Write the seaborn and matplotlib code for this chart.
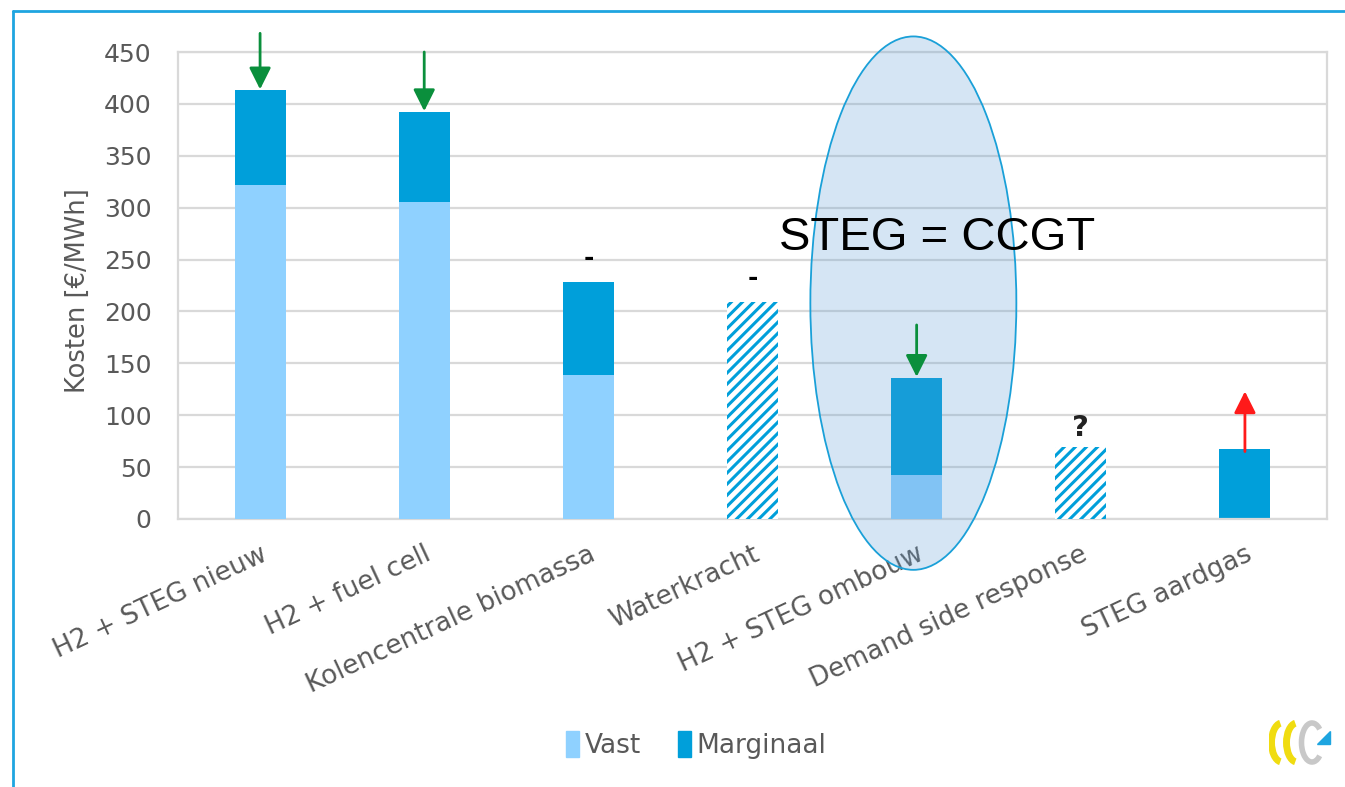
import numpy as np
import pandas as pd
import matplotlib
matplotlib.use("Agg")
import matplotlib.pyplot as plt
from matplotlib.patches import Ellipse, Rectangle, Arc, Polygon
from matplotlib.lines import Line2D
import seaborn as sns

# --- data (EUR/MWh) ---
categories = ["H2 + STEG nieuw", "H2 + fuel cell", "Kolencentrale biomassa", "Waterkracht",
              "H2 + STEG ombouw", "Demand side response", "STEG aardgas"]
vast = [322, 305, 139, 0, 42, 0, 0]
marginaal = [91, 87, 89, 0, 94, 0, 67]
onzeker = [0, 0, 0, 209, 0, 69, 0]          # hatched: total only, no split
yticks = [0, 50, 100, 150, 200, 250, 300, 350, 400, 450]

C_VAST = "#8FD1FF"
C_MARG = "#009FDA"
C_TEXT = "#595959"
C_GRID = "#D9D9D9"

sns.set_theme(style="white")
plt.rcParams["font.family"] = ["DejaVu Sans"]
plt.rcParams["hatch.linewidth"] = 2.2

fig = plt.figure(figsize=(13.45, 7.87), dpi=100)
ax = fig.add_axes([178 / 1345, 1 - 519 / 787, (1327 - 178) / 1345, (519 - 52) / 787])

totaal = [v + m for v, m in zip(vast, marginaal)]
df = pd.DataFrame({"cat": categories, "vast": vast, "marg": marginaal,
                   "tot": totaal, "onz": onzeker})

bw = 0.31
# stacked bars: total in marginal colour, fixed part drawn over it from zero
sns.barplot(data=df, x="cat", y="tot", color=C_MARG, width=bw, linewidth=0,
            saturation=1, ax=ax, zorder=2)
sns.barplot(data=df[df["vast"] > 0], x="cat", y="vast", color=C_VAST, width=bw, linewidth=0,
            saturation=1, ax=ax, zorder=3, order=categories)
sns.barplot(data=df[df["onz"] > 0], x="cat", y="onz", color="white", width=bw, linewidth=0,
            saturation=1, ax=ax, zorder=3, edgecolor=C_MARG, hatch="///", order=categories)

ax.set_xlim(-0.5, len(categories) - 0.5)
ax.set_ylim(0, 450)
ax.set_yticks(yticks)
ax.set_yticklabels([str(t) for t in yticks])
ax.yaxis.grid(True, color=C_GRID, linewidth=1.6, zorder=0)
ax.set_axisbelow(True)
for s in ax.spines.values():
    s.set_color(C_GRID)
    s.set_linewidth(1.6)
ax.tick_params(axis="y", length=0, pad=19, labelsize=18, labelcolor=C_TEXT)
ax.tick_params(axis="x", length=0, pad=16, labelsize=19, labelcolor=C_TEXT)
for lab in ax.get_xticklabels():
    lab.set_rotation(25)
    lab.set_ha("right")
    lab.set_va("top")
    lab.set_rotation_mode("anchor")
ax.set_xlabel("")
ax.set_ylabel("Kosten [€/MWh]", fontsize=18.5, color=C_TEXT)
ax.yaxis.set_label_coords(-0.076, 0.49)

# trend arrows
GREEN = "#0A8F3C"
for i, start in [(0, 468), (1, 450), (4, 187)]:
    ax.annotate("", xy=(i, totaal[i] + 1), xytext=(i, start), annotation_clip=False,
                arrowprops=dict(arrowstyle="-|>,head_width=0.55,head_length=1.1",
                                color=GREEN, lw=2, shrinkA=0, shrinkB=0), zorder=6)
ax.annotate("", xy=(6, 123), xytext=(6, totaal[6] - 2), annotation_clip=False,
            arrowprops=dict(arrowstyle="-|>,head_width=0.55,head_length=1.1",
                            color="#FF1A1A", lw=2, shrinkA=0, shrinkB=0), zorder=6)

# markers above bars
top = [t + o for t, o in zip(totaal, onzeker)]
ax.text(2, top[2] + 12, "-", ha="center", va="bottom", fontsize=18, fontweight="bold", color="black")
ax.text(3, top[3] + 12, "-", ha="center", va="bottom", fontsize=18, fontweight="bold", color="black")
ax.text(5, top[5] + 5, "?", ha="center", va="bottom", fontsize=21, fontweight="bold", color="#222222")

# highlighted group
ax.add_patch(Ellipse((3.98, 208), width=1.255, height=514, facecolor="#5B9BD5", alpha=0.25,
                     edgecolor="none", zorder=5, clip_on=False))
ax.add_patch(Ellipse((3.98, 208), width=1.255, height=514, facecolor="none",
                     edgecolor="#1AA0D8", linewidth=1.3, zorder=5, clip_on=False))
fig.text(937 / 1345, 1 - 238 / 787, "STEG = CCGT", ha="center", va="center",
         fontsize=34, family="Liberation Sans", color="black", zorder=10)

# legend
handles = [Rectangle((0, 0), 1, 1, color=C_VAST), Rectangle((0, 0), 1, 1, color=C_MARG)]
leg = fig.legend(handles, ["Vast", "Marginaal"], loc="center",
                 bbox_to_anchor=(696 / 1345, 1 - 745 / 787), ncol=2, frameon=False,
                 fontsize=19, handlelength=0.5, handleheight=1.1, handletextpad=0.2,
                 columnspacing=1.4)
for t in leg.get_texts():
    t.set_color(C_TEXT)

# outer frame
fig.add_artist(Line2D([13 / 1345, 13 / 1345], [-0.01, 1 - 11 / 787], transform=fig.transFigure,
                      color="#1EA5E0", linewidth=2))
fig.add_artist(Line2D([13 / 1345, 1.01], [1 - 11 / 787, 1 - 11 / 787], transform=fig.transFigure,
                      color="#1EA5E0", linewidth=2))

# logo
lax = fig.add_axes([1268 / 1345, 1 - 765 / 787, 70 / 1345, 45 / 787])
lax.set_xlim(0, 2.3)
lax.set_ylim(-0.75, 0.75)
lax.set_aspect("equal")
lax.axis("off")
for cx in (0.45, 0.95):
    lax.add_patch(Arc((cx, 0), 0.7, 1.3, theta1=95, theta2=265, color="#F0DC10", lw=5))
lax.add_patch(Arc((1.45, 0), 0.7, 1.3, theta1=60, theta2=300, color="#C8C8C8", lw=4))
lax.add_patch(Polygon([[1.6, -0.05], [2.05, -0.05], [2.05, 0.4]], closed=True, color="#1EA5E0"))

fig.savefig("out.png", dpi=100)
